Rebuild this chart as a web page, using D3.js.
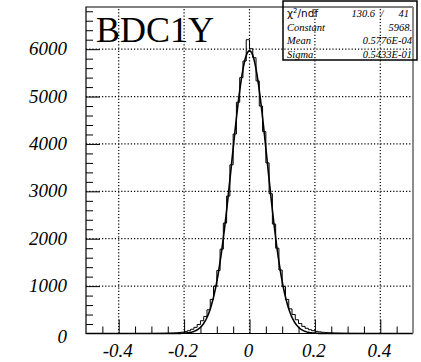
<!DOCTYPE html>
<html>
<head>
<meta charset="utf-8">
<script src="https://cdn.jsdelivr.net/npm/d3@7"></script>
<style>
  body { margin: 0; background: #fff; }
  svg { display: block; }
</style>
</head>
<body>
<div class="chart"></div>
<script>
// histogram: 100 bins of 0.01 from -0.5 to 0.5
const binLow = -0.5;
const binWidth = 0.01;
const counts = [
    0, 0, 0, 0, 0, 0, 0, 0, 0, 0,
    0, 0, 0, 0, 0, 0, 0, 0, 0, 0,
    1, 2, 3, 4, 6, 8, 10, 14, 20, 28,
    40, 60, 90, 130, 190, 270, 360, 500, 720, 1000,
    1330, 1780, 2330, 2900, 3560, 4210, 4880, 5400, 5750, 6200,
    6010, 5820, 5330, 4800, 4260, 3600, 2950, 2310, 1800, 1340,
    990, 720, 520, 400, 290, 210, 150, 110, 80, 60,
    45, 34, 26, 20, 15, 12, 9, 7, 5, 4,
    3, 2, 2, 1, 1, 0, 0, 0, 0, 0,
    0, 0, 0, 0, 0, 0, 0, 0, 0, 0
];

// gaussian fit parameters (from the stats box)
const fitConstant = 5968;
const fitMean = 0.5776E-04;
const fitSigma = 0.5433E-01;

const statLabels = ['Constant', 'Mean', 'Sigma'];
const statValues = ['5968.', '0.5776E-04', '0.5433E-01'];
const chi2 = '130.6';
const ndf = '41';

const xTicks = [-0.4, -0.2, 0, 0.2, 0.4];
const xTickLabels = ['-0.4', '-0.2', '0', '0.2', '0.4'];
const yTicks = [0, 1000, 2000, 3000, 4000, 5000, 6000];
const title = 'BDC1Y';

const W = 421, H = 362;
const margin = { top: 7, right: 8, bottom: 28.5, left: 86 };

const svg = d3.select('.chart')
    .append('svg')
    .attr('width', W)
    .attr('height', H);

const xScale = d3.scaleLinear()
    .domain([-0.5, 0.5])
    .range([margin.left, W - margin.right]);

const yScale = d3.scaleLinear()
    .domain([0, 6890])
    .range([H - margin.bottom, margin.top]);

const x0 = margin.left, x1 = W - margin.right;
const y0 = H - margin.bottom, y1 = margin.top;

// dotted grid
svg.append('g')
    .selectAll('line')
    .data(xTicks)
    .enter()
    .append('line')
    .attr('x1', d => xScale(d)).attr('x2', d => xScale(d))
    .attr('y1', y0).attr('y2', y1)
    .attr('stroke', '#000')
    .attr('stroke-width', 1.2)
    .attr('stroke-dasharray', '1.2,2');

svg.append('g')
    .selectAll('line')
    .data(yTicks.slice(1))
    .enter()
    .append('line')
    .attr('x1', x0).attr('x2', x1)
    .attr('y1', d => yScale(d)).attr('y2', d => yScale(d))
    .attr('stroke', '#000')
    .attr('stroke-width', 1.2)
    .attr('stroke-dasharray', '1.2,2');

// axes (ticks pointing inward, ROOT style)
const xAxis = d3.axisTop(xScale)
    .tickValues(d3.range(-0.45, 0.5, 0.05))
    .tickSize(0)
    .tickFormat('');
const gx = svg.append('g')
    .attr('transform', `translate(0, ${y0})`)
    .call(xAxis);
gx.select('.domain').remove();
gx.selectAll('.tick line')
    .attr('y2', (d) => xTicks.some(t => Math.abs(t - d) < 1e-6) ? -14 : -7)
    .attr('stroke', '#000');

const gy = svg.append('g')
    .attr('transform', `translate(${x0}, 0)`)
    .call(d3.axisRight(yScale)
        .tickValues(d3.range(200, 6890, 200))
        .tickSize(0)
        .tickFormat(''));
gy.select('.domain').remove();
gy.selectAll('.tick line')
    .attr('x2', d => d % 1000 === 0 ? 14 : 7)
    .attr('stroke', '#000');

// tick labels
svg.append('g')
    .selectAll('text')
    .data(xTicks)
    .enter()
    .append('text')
    .attr('x', d => xScale(d) - 1)
    .attr('y', 357)
    .attr('text-anchor', 'middle')
    .style('font-family', '"Liberation Serif", serif')
    .style('font-style', 'italic')
    .style('font-size', '19px')
    .text((d, i) => xTickLabels[i]);

svg.append('g')
    .selectAll('text')
    .data(yTicks)
    .enter()
    .append('text')
    .attr('x', 67)
    .attr('y', d => yScale(d) + (d === 0 ? 9 : 6))
    .attr('text-anchor', 'end')
    .style('font-family', '"Liberation Serif", serif')
    .style('font-style', 'italic')
    .style('font-size', '19px')
    .text(d => d);

// histogram outline
const steps = counts.map((c, i) => [binLow + i * binWidth, c]);
steps.push([binLow + counts.length * binWidth, counts[counts.length - 1]]);

svg.append('path')
    .datum(steps)
    .attr('fill', 'none')
    .attr('stroke', '#000')
    .attr('stroke-width', 1)
    .attr('d', d3.line()
        .x(d => xScale(d[0]))
        .y(d => yScale(d[1]))
        .curve(d3.curveStepAfter));

// fit curve
const gaus = x => fitConstant * Math.exp(-0.5 * Math.pow((x - fitMean) / fitSigma, 2));
svg.append('path')
    .datum(d3.range(-0.5, 0.5001, 0.002))
    .attr('fill', 'none')
    .attr('stroke', '#000')
    .attr('stroke-width', 1.6)
    .attr('d', d3.line()
        .x(d => xScale(d))
        .y(d => yScale(gaus(d))));

// frame
svg.append('path')
    .attr('d', `M${x1},${y1} H${x0} V${y0} H${x1}`)
    .attr('fill', 'none')
    .attr('stroke', '#000')
    .attr('stroke-width', 1.2);
svg.append('line')
    .attr('x1', x1).attr('x2', x1)
    .attr('y1', y1).attr('y2', y0)
    .attr('stroke', '#8c8c8c')
    .attr('stroke-width', 2);

// title
svg.append('text')
    .attr('x', 96)
    .attr('y', 42)
    .style('font-family', '"Liberation Serif", serif')
    .style('font-size', '36px')
    .text(title);

// stats box
const box = { x: 283, y: 1, w: 134, h: 59 };
svg.append('rect')
    .attr('x', box.x).attr('y', box.y)
    .attr('width', box.w).attr('height', box.h)
    .attr('fill', 'none')
    .attr('stroke', '#000')
    .attr('stroke-width', 1.5);

const statFont = sel => sel
    .style('font-family', '"Liberation Serif", serif')
    .style('font-style', 'italic')
    .style('font-size', '10.5px');

const chiLabel = svg.append('text')
    .attr('x', 287)
    .attr('y', 17)
    .style('font-family', '"DejaVu Sans", sans-serif')
    .style('font-size', '10.5px');
chiLabel.append('tspan').text('\u03c7');
chiLabel.append('tspan').attr('dy', -4).style('font-size', '7px').text('2');
chiLabel.append('tspan').attr('dy', 4).text('/ndf');

svg.append('text').attr('x', 375).attr('y', 17).attr('text-anchor', 'end').call(statFont).text(chi2);
svg.append('text').attr('x', 382).attr('y', 17).attr('text-anchor', 'middle').call(statFont).text('/');
svg.append('text').attr('x', 409).attr('y', 17).attr('text-anchor', 'end').call(statFont).text(ndf);

const rowY = [30.5, 44, 57.5];
svg.append('g')
    .selectAll('text')
    .data(statLabels)
    .enter()
    .append('text')
    .attr('x', 287)
    .attr('y', (d, i) => rowY[i])
    .call(statFont)
    .text(d => d);

svg.append('g')
    .selectAll('text')
    .data(statValues)
    .enter()
    .append('text')
    .attr('x', 412)
    .attr('y', (d, i) => rowY[i])
    .attr('text-anchor', 'end')
    .call(statFont)
    .text(d => d);
</script>
</body>
</html>
